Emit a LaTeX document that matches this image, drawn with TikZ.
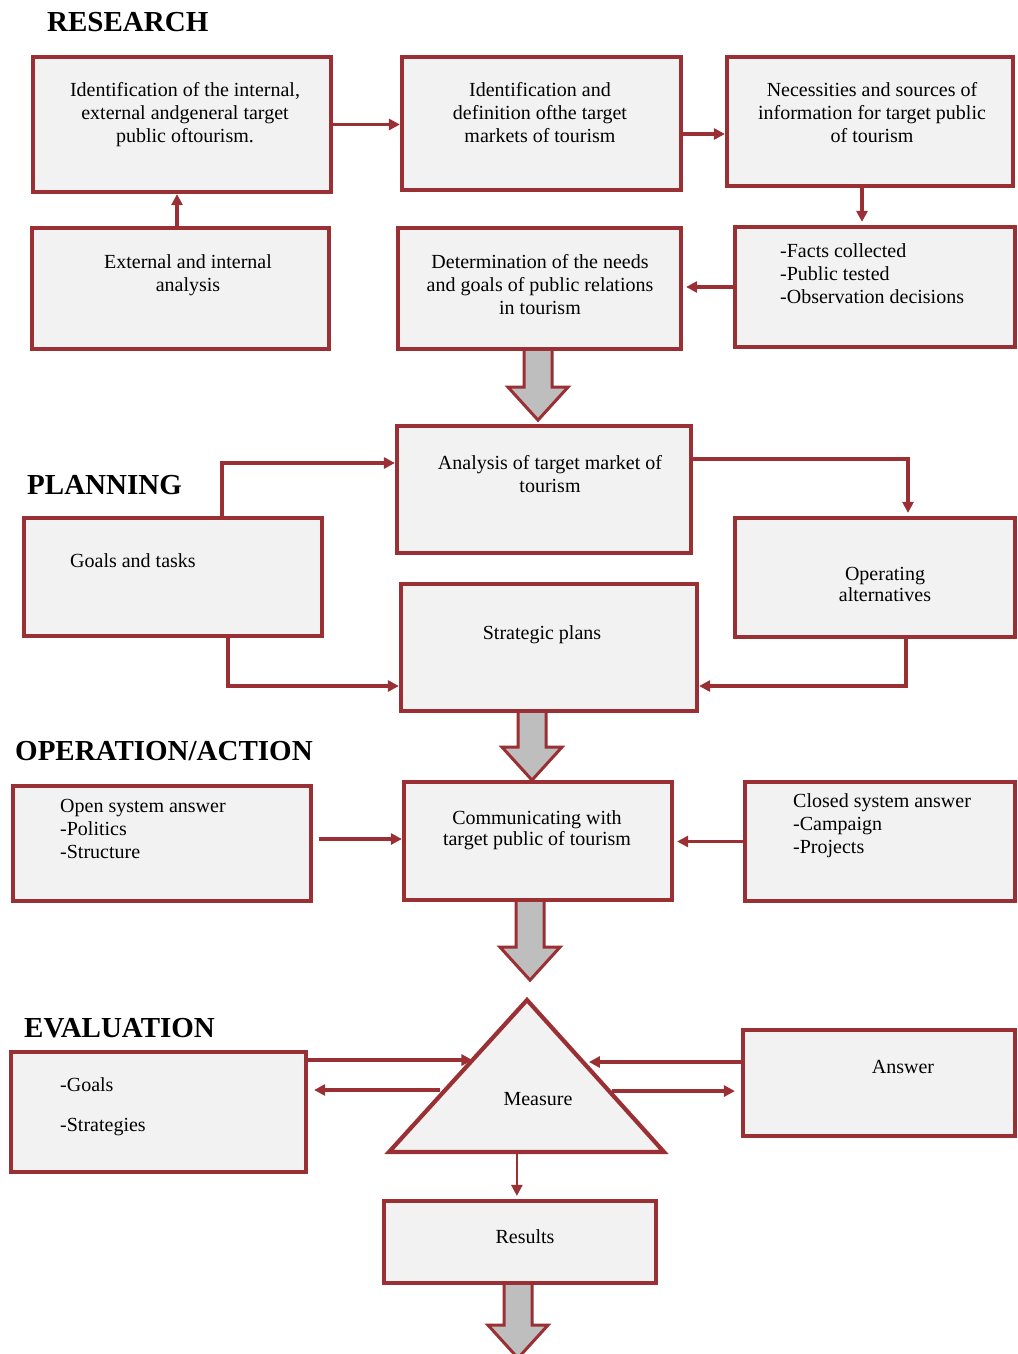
\documentclass[tikz,border=0pt]{standalone}
\usepackage{fontspec}
\setmainfont{Liberation Serif}
\usetikzlibrary{arrows.meta, positioning, calc}
\definecolor{frame}{RGB}{155,48,52}
\definecolor{boxfill}{RGB}{242,242,242}
\definecolor{arrowgray}{RGB}{190,190,190}
% wide grey block arrow hanging from a coordinate
\newcommand{\bigarrow}[2]{%
  \draw[bigarr] ([xshift=-14pt]#1) -- ++(0,#2) -- ++(-16,0) -- ++(30,33)
    -- ++(30,-33) -- ++(-16,0) -- ([xshift=14pt]#1);}

\begin{document}
\begin{tikzpicture}[x=1pt, y=-1pt,
  box/.style={draw=frame, line width=4.2pt, fill=boxfill, inner sep=0pt},
  txt/.style={font=\fontsize{20}{23}\selectfont, align=center, inner sep=0pt},
  txtl/.style={txt, align=left},
  heading/.style={font=\fontsize{29}{30}\selectfont\bfseries, inner sep=0pt, anchor=base west},
  arr/.style={draw=frame, line width=3.2pt, -{Triangle[length=11pt,width=11pt]}},
  bigarr/.style={draw=frame, line width=3pt, fill=arrowgray, line join=miter}]
  \useasboundingbox (0,0) rectangle (1017,1354);
  \fill[white] (0,0) rectangle (1017,1354);

  % research
  \node[heading] (research) at (47,32) {RESEARCH};
  \node[box, minimum width=298pt, minimum height=135pt] (b1) at (182,124.5) {};
  \node[box, minimum width=279pt, minimum height=133pt] (b2) at (541.5,123.5) {};
  \node[box, minimum width=286pt, minimum height=129pt] (b3) at (870,121.5) {};
  \node[box, minimum width=297pt, minimum height=121pt] (b4) at (180.5,288.5) {};
  \node[box, minimum width=283pt, minimum height=121pt] (b5) at (539.5,288.5) {};
  \node[box, minimum width=280pt, minimum height=120pt] (b6) at (875,287) {};
  \node[txt, anchor=north] (b1t) at (185,82.6) {Identification of the internal,\\external andgeneral target\\public oftourism.};
  \node[txt, anchor=north] (b2t) at (540,82.6) {Identification and\\definition ofthe target\\markets of tourism};
  \node[txt, anchor=north] (b3t) at (872,82.6) {Necessities and sources of\\information for target public\\of tourism};
  \node[txt, anchor=north] (b4t) at (188,254.6) {External and internal\\analysis};
  \node[txt, anchor=north] (b5t) at (540,254.6) {Determination of the needs\\and goals of public relations\\in tourism};
  \node[txtl, anchor=north west] (b6t) at (780,243.6) {-Facts collected\\-Public tested\\-Observation decisions};
  \draw[arr] (b1.east) -- (b2.west |- b1.east);
  \draw[arr] (b2.east |- 0,134) -- (b3.west |- 0,134);
  \draw[arr, shorten >=3pt] ([xshift=-8pt]b3.south) -- ([xshift=-8pt]b3.south |- b6.north);
  \draw[arr] (b4.north -| 177,0) -- (177,0 |- b1.south);
  \draw[arr, shorten >=3pt] (b6.west) -- (b5.east |- b6.west);
  \coordinate (a1) at ([xshift=-1.5pt]b5.south);
  \bigarrow{a1}{36}

  % planning
  \node[heading] (planning) at (27,494) {PLANNING};
  \node[box, minimum width=294pt, minimum height=127pt] (b7) at (544,489.5) {};
  \node[box, minimum width=298pt, minimum height=118pt] (b8) at (173,577) {};
  \node[box, minimum width=280pt, minimum height=119pt] (b9) at (875,577.5) {};
  \node[box, minimum width=296pt, minimum height=127pt] (b10) at (549,647.5) {};
  \node[txt, anchor=north] (b7t) at (550,455.6) {Analysis of target market of\\tourism};
  \node[txt, anchor=base west] (b8t) at (70,567.6) {Goals and tasks};
  \node[txt, anchor=north, font=\fontsize{20}{21}\selectfont] (b9t) at (885,566.6) {Operating\\alternatives};
  \node[txt, anchor=base] (b10t) at (542,639.6) {Strategic plans};
  \draw[arr] ([xshift=49pt]b8.north) |- ([yshift=26.5pt]b7.west);
  \draw[arr, shorten >=3pt] ([yshift=30.5pt]b7.east) -| ([xshift=33pt]b9.north);
  \draw[arr] ([xshift=55pt]b8.south) |- ([yshift=-38.5pt]b10.west);
  \draw[arr] ([xshift=31pt]b9.south) |- ([yshift=-38.5pt]b10.east);
  \coordinate (a2) at ([xshift=-17pt]b10.south);
  \bigarrow{a2}{34}

  % operation / action
  \node[heading] (operation) at (15,760) {OPERATION/ACTION};
  \node[box, minimum width=298pt, minimum height=115pt] (b11) at (162,843.5) {};
  \node[box, minimum width=268pt, minimum height=118pt] (b12) at (538,841) {};
  \node[box, minimum width=270pt, minimum height=119pt] (b13) at (880,841.5) {};
  \node[txtl, anchor=north west] (b11t) at (60,798.6) {Open system answer\\-Politics\\-Structure};
  \node[txt, anchor=north, font=\fontsize{20}{21}\selectfont] (b12t) at (537,810.6) {Communicating with\\target public of tourism};
  \node[txtl, anchor=north west] (b13t) at (793,793.6) {Closed system answer\\-Campaign\\-Projects};
  \draw[arr] ([xshift=6pt, yshift=4.5pt]b11.east) -- (b12.west |- 0,839);
  \draw[arr, shorten >=3pt] (b13.west) -- (b12.east |- b13.west);
  \coordinate (a3) at ([xshift=-8pt]b12.south);
  \bigarrow{a3}{45}

  % evaluation
  \node[heading] (evaluation) at (24,1037) {EVALUATION};
  \node[box, minimum width=295pt, minimum height=120pt] (b14) at (158.5,1112) {};
  \node[box, minimum width=272pt, minimum height=106pt] (b15) at (879,1083) {};
  \node[box, minimum width=272pt, minimum height=82pt] (b16) at (520,1242) {};
  \coordinate (mtop) at (527,1000);
  \coordinate (mleft) at (389,1152);
  \coordinate (mright) at (664,1152);
  \draw[box] (mtop) -- (mright) -- (mleft) -- cycle;
  \node[txtl, anchor=north west] (b14t) at (60,1077.6) {-Goals\\[17pt]-Strategies};
  \node[txt, anchor=base] (b15t) at (903,1073.6) {Answer};
  \node[txt, anchor=base] (measure) at (538,1105.6) {Measure};
  \node[txt, anchor=base] (b16t) at (525,1243.6) {Results};
  \coordinate (t1) at ($(mtop)!0.395!(mleft)$);
  \coordinate (t2) at ($(mtop)!0.592!(mleft)$);
  \coordinate (t3) at ($(mtop)!0.408!(mright)$);
  \coordinate (t4) at ($(mtop)!0.599!(mright)$);
  \coordinate (mbase) at ($(mleft)!0.465!(mright)$);
  \draw[arr] (b14.east |- t1) -- (t1);
  \draw[arr, shorten <=5pt, shorten >=6pt] (t2) -- (b14.east |- t2);
  \draw[arr] (b15.west |- t3) -- ([xshift=6pt]t3);
  \draw[arr, shorten <=3pt, shorten >=6pt] (t4) -- (b15.west |- t4);
  \draw[arr, line width=2.4pt, shorten >=3pt] (mbase) -- (mbase |- b16.north);
  \coordinate (a4) at ([xshift=-2pt]b16.south);
  \bigarrow{a4}{40}
\end{tikzpicture}
\end{document}
